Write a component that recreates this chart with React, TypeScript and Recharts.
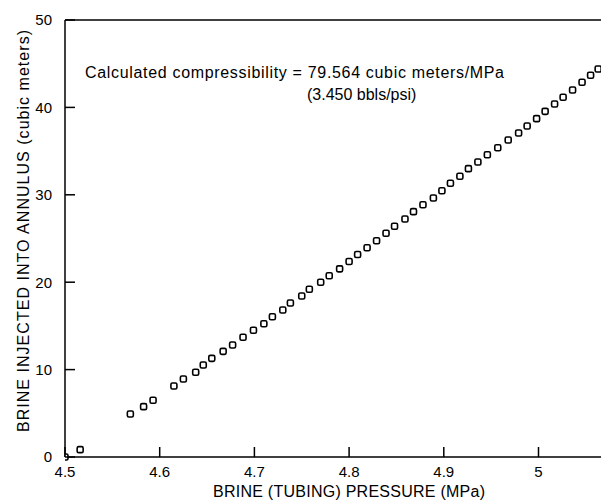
import { ScatterChart, Scatter, XAxis, YAxis, ReferenceLine } from 'recharts';

// brine (tubing) pressure, MPa
const pressure = [
  4.5, 4.516, 4.569, 4.583, 4.593, 4.615, 4.625, 4.638, 4.646, 4.655,
  4.667, 4.677, 4.688, 4.699, 4.71, 4.719, 4.73, 4.738, 4.75, 4.758,
  4.77, 4.779, 4.79, 4.8, 4.809, 4.819, 4.829, 4.839, 4.848, 4.859,
  4.868, 4.878, 4.889, 4.898, 4.907, 4.917, 4.926, 4.936, 4.946, 4.957,
  4.968, 4.979, 4.988, 4.998, 5.007, 5.017, 5.026, 5.036, 5.046, 5.055,
  5.063,
];

// brine injected into annulus, cubic meters
const injected = [
  0, 0.84, 4.92, 5.76, 6.49, 8.12, 8.92, 9.69, 10.53, 11.29,
  12.09, 12.81, 13.7, 14.5, 15.25, 16.05, 16.82, 17.62, 18.42, 19.19,
  19.99, 20.74, 21.53, 22.37, 23.17, 23.95, 24.75, 25.6, 26.4, 27.23,
  28.07, 28.87, 29.63, 30.47, 31.32, 32.12, 32.99, 33.75, 34.59, 35.39,
  36.27, 37.07, 37.87, 38.71, 39.55, 40.39, 41.16, 41.99, 42.87, 43.67,
  44.39,
];

const xTicks = [4.5, 4.6, 4.7, 4.8, 4.9, 5];
const yTicks = [0, 10, 20, 30, 40, 50];

const points = pressure.map((p, i) => ({ p, v: injected[i] }));

const font = '"Liberation Sans", Arial, sans-serif';
const TICK_IN = 10;
const X_MARGIN = 9;
const Y_MARGIN = 13;

const OpenSquare = (props: any) => {
  const { cx, cy } = props;
  if (cx == null || cy == null) return null;
  return (
    <rect
      x={cx - 3}
      y={cy - 3}
      width={6}
      height={6}
      rx={1.5}
      fill="#fff"
      stroke="#000"
      strokeWidth={1.6}
    />
  );
};

// ticks point into the plot, like the original
const XTick = (props: any) => {
  const { x, y, payload } = props;
  const axisY = y - X_MARGIN;
  return (
    <g>
      <line x1={x} x2={x} y1={axisY} y2={axisY - TICK_IN} stroke="#000" strokeWidth={1.5} />
      <text x={x} y={y} dy="0.71em" textAnchor="middle" fontSize={15} fill="#000" fontFamily={font}>
        {payload.value}
      </text>
    </g>
  );
};

const YTick = (props: any) => {
  const { x, y, payload } = props;
  const axisX = x + Y_MARGIN;
  return (
    <g>
      <line x1={axisX} x2={axisX + TICK_IN} y1={y} y2={y} stroke="#000" strokeWidth={1.5} />
      <text x={x} y={y} dy="0.355em" textAnchor="end" fontSize={15} fill="#000" fontFamily={font}>
        {payload.value}
      </text>
    </g>
  );
};

export default function App() {
  return (
    <div style={{ position: 'absolute', left: 0, top: 0, width: 601, height: 502, background: '#fff' }}>
      <ScatterChart
        width={601}
        height={502}
        margin={{ top: 20, right: 0, bottom: 0, left: 0 }}
        style={{ fontFamily: font }}
      >
        <XAxis
          type="number"
          dataKey="p"
          domain={[4.5, 5.066]}
          ticks={xTicks}
          allowDataOverflow
          height={45}
          tickSize={0}
          tickMargin={X_MARGIN}
          tickLine={false}
          axisLine={{ stroke: '#000', strokeWidth: 1.5 }}
          tick={<XTick />}
        />
        <YAxis
          type="number"
          dataKey="v"
          domain={[0, 50]}
          ticks={yTicks}
          width={65}
          tickSize={0}
          tickMargin={Y_MARGIN}
          tickLine={false}
          axisLine={{ stroke: '#000', strokeWidth: 1.5 }}
          tick={<YTick />}
        />
        <ReferenceLine y={50} stroke="#000" strokeWidth={1.5} />
        <Scatter data={points} shape={OpenSquare} isAnimationActive={false} />
        <text
          x={85}
          y={78}
          fontSize={16}
          fill="#000"
          fontFamily={font}
          textLength={419}
          lengthAdjust="spacing"
        >
          Calculated compressibility = 79.564 cubic meters/MPa
        </text>
        <text x={307} y={100} fontSize={16} fill="#000" fontFamily={font}>
          (3.450 bbls/psi)
        </text>
        <text
          x={213}
          y={497}
          fontSize={16}
          fill="#000"
          fontFamily={font}
          textLength={272}
          lengthAdjust="spacing"
        >
          BRINE (TUBING) PRESSURE (MPa)
        </text>
        <text
          x={29}
          y={432}
          fontSize={16}
          fill="#000"
          fontFamily={font}
          textLength={402}
          lengthAdjust="spacing"
          transform="rotate(-90 29 432)"
        >
          BRINE INJECTED INTO ANNULUS (cubic meters)
        </text>
      </ScatterChart>
    </div>
  );
}
